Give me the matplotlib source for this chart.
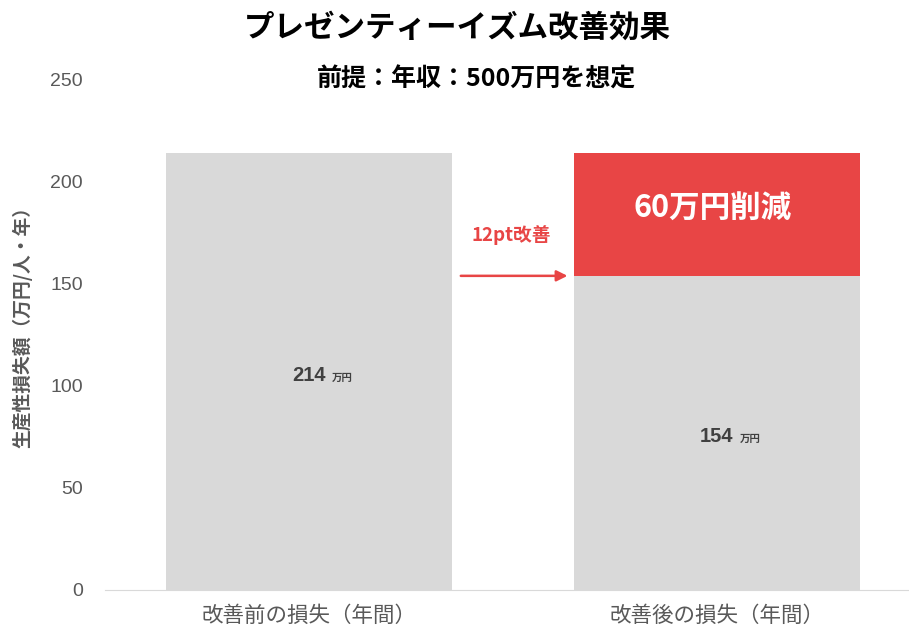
import matplotlib.pyplot as plt

plt.rcParams['font.family'] = ['Noto Sans CJK JP', 'DejaVu Sans']

# data
categories = ['改善前の損失（年間）', '改善後の損失（年間）']
losses = [214, 154]
reduction = 60
improve_pt = 12
yticks = [0, 50, 100, 150, 200, 250]

gray = '#D9D9D9'
red = '#E84545'
txt = '#595959'

fig = plt.figure(figsize=(9.09, 6.34), dpi=100)
ax = fig.add_axes([105 / 909, 44 / 634, 1 - 105 / 909, 510 / 634])

x = list(range(len(categories)))
ax.bar(x, losses, width=0.7, color=gray, zorder=2)
ax.bar(x[1], reduction, bottom=losses[1], width=0.7, color=red, zorder=2)

# value labels in bars
for xi, v in zip(x, losses):
    ax.text(xi + 0.04, v / 2 - 2, f'{v}', ha='right', va='center', fontsize=14.5,
            fontweight='bold', color='#404040', family=['Liberation Sans', 'DejaVu Sans'])
    ax.text(xi + 0.055, v / 2 - 3, '万円', ha='left', va='center', fontsize=7.5,
            fontweight='bold', color='#404040')

ax.text(x[1] - 0.012, losses[1] + reduction / 2 + 3, f'{reduction}万円削減', ha='center',
        va='center', fontsize=22, fontweight='bold', color='white')

# arrow between bars
ax.annotate('', xy=(x[1] - 0.36, losses[1]), xytext=(x[0] + 0.365, losses[1]),
            arrowprops=dict(arrowstyle='-|>', color=red, lw=1.8, mutation_scale=16))
ax.text((x[0] + x[1]) / 2 - 0.005, 174, f'{improve_pt}pt改善', ha='center', va='center',
        fontsize=13.5, fontweight='bold', color=red)

ax.set_xlim(-0.5, 1.47)
ax.set_ylim(0, 250)
ax.set_yticks(yticks)
ax.set_yticklabels([str(t) for t in yticks], family=['Liberation Sans', 'DejaVu Sans'])
ax.set_xticks(x)
ax.set_xticklabels(categories, fontsize=15.5, color=txt)
ax.tick_params(axis='y', length=0, labelsize=14, labelcolor=txt, pad=16)
ax.tick_params(axis='x', length=0, pad=11)
for s in ['top', 'right', 'left']:
    ax.spines[s].set_visible(False)
ax.spines['bottom'].set_color('#D9D9D9')
ax.set_ylabel('生産性損失額（万円/人・年）', fontsize=13.5, fontweight='bold',
              color=txt)
ax.yaxis.set_label_coords(-0.09, (590 - 322) / 510)

fig.text(0.5 + 3 / 909, 1 - 28 / 634, 'プレゼンティーイズム改善効果', ha='center', va='center',
         fontsize=22, fontweight='bold', color='black')
fig.text(0.5 + 22 / 909, 1 - 80 / 634, '前提：年収：500万円を想定', ha='center', va='center',
         fontsize=18, fontweight='bold', color='black')

fig.savefig('out.png', dpi=100)
